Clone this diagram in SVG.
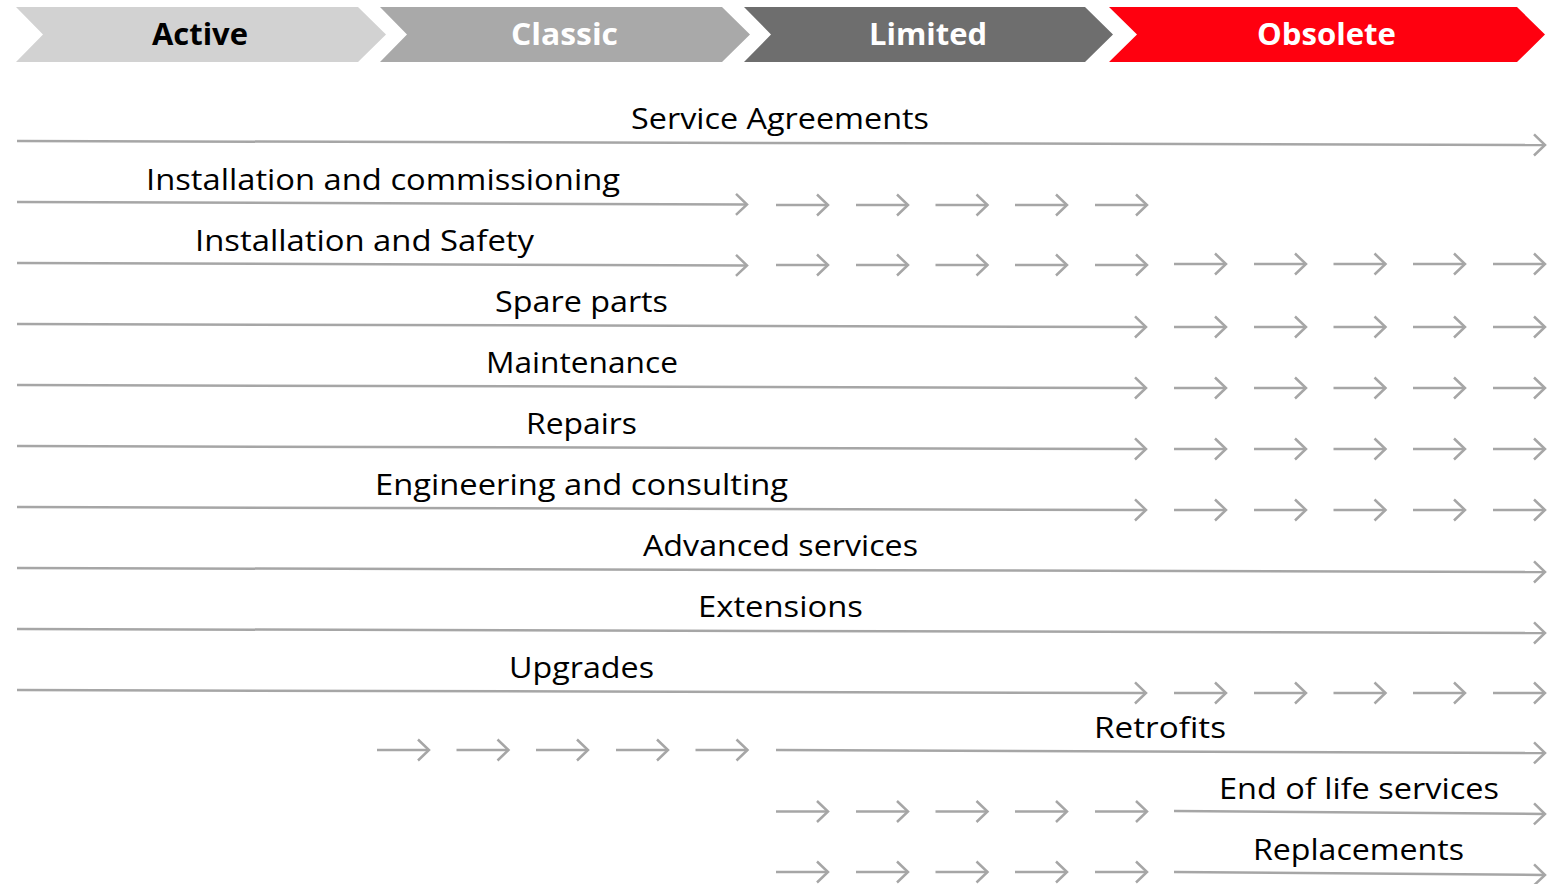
<svg xmlns="http://www.w3.org/2000/svg" width="1557" height="884" viewBox="0 0 1557 884">
<style>
.hd{font-family:"Open Sans","Noto Sans","Liberation Sans",sans-serif;font-weight:700;font-size:30px;text-anchor:middle}
.lb{font-family:"Open Sans","Noto Sans","Liberation Sans",sans-serif;font-size:30px;fill:#000;text-anchor:middle}
.ln{stroke:#a6a6a6;stroke-width:2.5;fill:none;marker-end:url(#ah)}
</style>
<defs>
<marker id="ah" markerUnits="userSpaceOnUse" markerWidth="30" markerHeight="30" viewBox="-15 -15 30 30" refX="0" refY="0" orient="auto" overflow="visible">
<path d="M-11,-10.5 L0,0 L-11,10.5" fill="none" stroke="#a6a6a6" stroke-width="2.5"/>
</marker>
<path id="sa" d="M0,0 H52" class="ln"/>
</defs>
<rect width="1557" height="884" fill="#fff"/>
<g id="phase-active"><polygon points="16,7 358,7 386,34.5 358,62 16,62 43,34.5" fill="#d2d2d2"/><text class="hd" x="200" y="45" fill="#000" textLength="96" lengthAdjust="spacingAndGlyphs">Active</text></g>
<g id="phase-classic"><polygon points="380,7 722,7 750,34.5 722,62 380,62 407,34.5" fill="#a9a9a9"/><text class="hd" x="564.5" y="45" fill="#fff" textLength="107" lengthAdjust="spacingAndGlyphs">Classic</text></g>
<g id="phase-limited"><polygon points="744,7 1085,7 1113,34.5 1085,62 744,62 771,34.5" fill="#6e6e6e"/><text class="hd" x="928" y="45" fill="#fff" textLength="118" lengthAdjust="spacingAndGlyphs">Limited</text></g>
<g id="phase-obsolete"><polygon points="1109,7 1517,7 1545,34.5 1517,62 1109,62 1137,34.5" fill="#ff000f"/><text class="hd" x="1326.5" y="45" fill="#fff" textLength="139" lengthAdjust="spacingAndGlyphs">Obsolete</text></g>

<g id="labels">
<text class="lb" x="780" y="129" textLength="298" lengthAdjust="spacingAndGlyphs">Service Agreements</text>
<text class="lb" x="383" y="190" textLength="474" lengthAdjust="spacingAndGlyphs">Installation and commissioning</text>
<text class="lb" x="364.5" y="251" textLength="339" lengthAdjust="spacingAndGlyphs">Installation and Safety</text>
<text class="lb" x="581.5" y="312" textLength="173" lengthAdjust="spacingAndGlyphs">Spare parts</text>
<text class="lb" x="582" y="373" textLength="192" lengthAdjust="spacingAndGlyphs">Maintenance</text>
<text class="lb" x="581.5" y="434" textLength="111" lengthAdjust="spacingAndGlyphs">Repairs</text>
<text class="lb" x="581.5" y="495" textLength="413" lengthAdjust="spacingAndGlyphs">Engineering and consulting</text>
<text class="lb" x="780.5" y="556" textLength="275" lengthAdjust="spacingAndGlyphs">Advanced services</text>
<text class="lb" x="780.5" y="617" textLength="165" lengthAdjust="spacingAndGlyphs">Extensions</text>
<text class="lb" x="581.5" y="678" textLength="145" lengthAdjust="spacingAndGlyphs">Upgrades</text>
<text class="lb" x="1160" y="738" textLength="132" lengthAdjust="spacingAndGlyphs">Retrofits</text>
<text class="lb" x="1359" y="799" textLength="280" lengthAdjust="spacingAndGlyphs">End of life services</text>
<text class="lb" x="1358.5" y="860" textLength="211" lengthAdjust="spacingAndGlyphs">Replacements</text>
</g>

<g id="connectors">
<line class="ln" x1="17" y1="141" x2="1545" y2="145"/>
<line class="ln" x1="17" y1="202" x2="747" y2="204.5"/>
<line class="ln" x1="17" y1="263" x2="747" y2="265.5"/>
<line class="ln" x1="17" y1="324" x2="1146" y2="327"/>
<line class="ln" x1="17" y1="385" x2="1146" y2="388"/>
<line class="ln" x1="17" y1="446" x2="1146" y2="449"/>
<line class="ln" x1="17" y1="507" x2="1146" y2="510"/>
<line class="ln" x1="17" y1="568" x2="1545" y2="572"/>
<line class="ln" x1="17" y1="629" x2="1545" y2="633"/>
<line class="ln" x1="17" y1="690" x2="1146" y2="693"/>
<line class="ln" x1="776" y1="750" x2="1545" y2="753"/>
<line class="ln" x1="1174" y1="811" x2="1545" y2="814"/>
<line class="ln" x1="1174" y1="872" x2="1545" y2="875"/>

<use href="#sa" x="776" y="205"/><use href="#sa" x="856" y="205"/><use href="#sa" x="935.5" y="205"/><use href="#sa" x="1015" y="205"/><use href="#sa" x="1095" y="205"/>
<use href="#sa" x="776" y="265"/><use href="#sa" x="856" y="265"/><use href="#sa" x="935.5" y="265"/><use href="#sa" x="1015" y="265"/><use href="#sa" x="1095" y="265"/>
<use href="#sa" x="1174" y="264"/><use href="#sa" x="1254" y="264"/><use href="#sa" x="1333.5" y="264"/><use href="#sa" x="1413" y="264"/><use href="#sa" x="1493" y="264"/>
<use href="#sa" x="1174" y="327"/><use href="#sa" x="1254" y="327"/><use href="#sa" x="1333.5" y="327"/><use href="#sa" x="1413" y="327"/><use href="#sa" x="1493" y="327"/>
<use href="#sa" x="1174" y="388"/><use href="#sa" x="1254" y="388"/><use href="#sa" x="1333.5" y="388"/><use href="#sa" x="1413" y="388"/><use href="#sa" x="1493" y="388"/>
<use href="#sa" x="1174" y="449"/><use href="#sa" x="1254" y="449"/><use href="#sa" x="1333.5" y="449"/><use href="#sa" x="1413" y="449"/><use href="#sa" x="1493" y="449"/>
<use href="#sa" x="1174" y="510"/><use href="#sa" x="1254" y="510"/><use href="#sa" x="1333.5" y="510"/><use href="#sa" x="1413" y="510"/><use href="#sa" x="1493" y="510"/>
<use href="#sa" x="1174" y="693"/><use href="#sa" x="1254" y="693"/><use href="#sa" x="1333.5" y="693"/><use href="#sa" x="1413" y="693"/><use href="#sa" x="1493" y="693"/>
<use href="#sa" x="377" y="750"/><use href="#sa" x="456.5" y="750"/><use href="#sa" x="536" y="750"/><use href="#sa" x="616" y="750"/><use href="#sa" x="695.5" y="750"/>
<use href="#sa" x="776" y="811.5"/><use href="#sa" x="856" y="811.5"/><use href="#sa" x="935.5" y="811.5"/><use href="#sa" x="1015" y="811.5"/><use href="#sa" x="1095" y="811.5"/>
<use href="#sa" x="776" y="872"/><use href="#sa" x="856" y="872"/><use href="#sa" x="935.5" y="872"/><use href="#sa" x="1015" y="872"/><use href="#sa" x="1095" y="872"/>
</g>
</svg>
